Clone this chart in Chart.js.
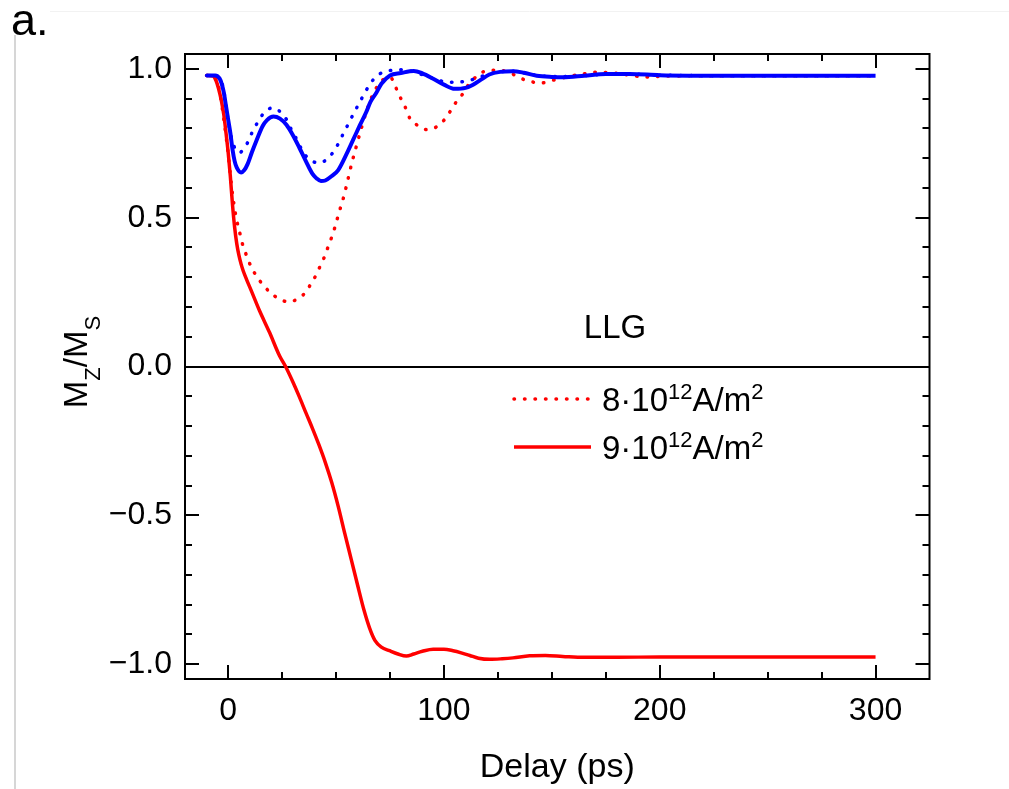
<!DOCTYPE html>
<html><head><meta charset="utf-8">
<script src="https://cdn.jsdelivr.net/npm/chart.js@4.4.1/dist/chart.umd.min.js"></script>
<style>html,body{margin:0;padding:0;background:#fff;}canvas{display:block;}</style>
</head><body>
<canvas id="c" width="1009" height="789"></canvas>
<script>
const FONT = '"Liberation Sans", Arial, Helvetica, sans-serif';

// ---- axis ticks ----
const xTicks = [0, 100, 200, 300];
const yTicks = [-1.0, -0.5, 0.0, 0.5, 1.0];
const yTickLabels = ['\u22121.0', '\u22120.5', '0.0', '0.5', '1.0'];

// ---- blue dotted ----
const blueDotX = [-10, -6, -4, -3, -2, -1, 0, 1, 2, 3.5, 5.2, 7, 9, 11, 13, 16, 18, 20.7, 23, 25, 27, 29, 32, 34.6, 37, 39.5, 42.3, 45, 47, 50, 53.2, 57.8, 61.7, 66.3, 70.2, 74.8, 80.2, 86, 91, 95, 100, 104.2, 109.6, 115, 120, 126, 132, 137, 143, 150, 160, 175, 186, 200, 230, 300];
const blueDotY = [0.978, 0.978, 0.968, 0.955, 0.925, 0.875, 0.825, 0.785, 0.755, 0.728, 0.718, 0.73, 0.752, 0.785, 0.812, 0.847, 0.862, 0.869, 0.862, 0.85, 0.83, 0.80, 0.76, 0.722, 0.70, 0.688, 0.684, 0.692, 0.705, 0.735, 0.78, 0.845, 0.898, 0.955, 0.983, 0.994, 0.997, 0.99, 0.978, 0.968, 0.957, 0.955, 0.958, 0.968, 0.981, 0.99, 0.992, 0.987, 0.978, 0.974, 0.975, 0.982, 0.983, 0.979, 0.977, 0.977];

// ---- blue solid ----
const blueSolX = [-10, -6, -4, -3, -2, -1, 0, 1, 2, 3, 4, 6, 7.5, 9, 11, 13, 16, 18, 21, 24, 27, 30, 33, 36, 39, 41, 43, 45, 48, 51, 55, 58, 61, 64, 66, 68.6, 71, 75, 80, 86, 90, 95, 100, 105, 110, 113.5, 117, 121, 126, 132, 137, 143, 150, 155, 165, 175, 186, 200, 230, 300];
const blueSolY = [0.978, 0.978, 0.968, 0.95, 0.92, 0.875, 0.83, 0.785, 0.73, 0.69, 0.668, 0.652, 0.66, 0.68, 0.72, 0.757, 0.808, 0.828, 0.84, 0.833, 0.812, 0.777, 0.735, 0.69, 0.648, 0.632, 0.623, 0.625, 0.64, 0.66, 0.716, 0.763, 0.81, 0.855, 0.89, 0.919, 0.95, 0.978, 0.986, 0.993, 0.985, 0.967, 0.947, 0.933, 0.936, 0.947, 0.963, 0.981, 0.99, 0.992, 0.987, 0.977, 0.973, 0.972, 0.977, 0.983, 0.983, 0.979, 0.977, 0.977];

// ---- red dotted: 8·10^12 A/m^2 ----
const redDotX = [-10, -6, -5, -4, -3, -2, -1, 0, 1, 2, 3, 4, 5.2, 6.3, 7.9, 9.6, 11.7, 14.1, 16.4, 19.5, 23.3, 27.9, 32.6, 36.2, 38.2, 40.5, 42.3, 44.3, 46, 47.8, 49.3, 50.7, 51.9, 53.2, 54.4, 55.5, 57, 59.4, 61.7, 64, 66.5, 69, 71.5, 74, 75.5, 77.1, 79.5, 82.6, 84.1, 87.2, 91.8, 96.5, 100.3, 102.6, 105.4, 108.5, 110.7, 113.5, 116.6, 120.4, 125.8, 130.5, 135.1, 139.7, 145.2, 150.6, 158.3, 164.5, 170.7, 180, 187.7, 193.9, 200, 230, 300];
const redDotY = [0.978, 0.975, 0.955, 0.925, 0.88, 0.83, 0.775, 0.715, 0.645, 0.58, 0.53, 0.49, 0.455, 0.42, 0.385, 0.352, 0.321, 0.293, 0.273, 0.248, 0.229, 0.217, 0.229, 0.252, 0.276, 0.304, 0.332, 0.363, 0.396, 0.431, 0.464, 0.50, 0.53, 0.561, 0.595, 0.628, 0.675, 0.74, 0.80, 0.855, 0.905, 0.94, 0.962, 0.972, 0.97, 0.947, 0.908, 0.863, 0.835, 0.813, 0.796, 0.805, 0.83, 0.854, 0.886, 0.914, 0.94, 0.964, 0.983, 0.995, 0.995, 0.987, 0.970, 0.958, 0.953, 0.962, 0.975, 0.983, 0.989, 0.985, 0.977, 0.973, 0.975, 0.977, 0.977];

// ---- red solid: 9·10^12 A/m^2 ----
const redSolX = [-10, -7, -5.6, -4.5, -3.2, -2, -1, 0, 1, 2, 3, 4, 5, 6, 7, 8.5, 10.7, 14.5, 19.2, 23.8, 26.6, 30, 33, 36, 39, 42, 45, 48, 51, 54, 57, 60, 63, 65.5, 68, 71, 74.8, 78.7, 82.6, 86, 90, 95, 100, 104.2, 108, 112, 116, 121.2, 127, 132, 139.7, 147, 155, 165, 180, 200, 250, 300];
const redSolY = [0.978, 0.976, 0.96, 0.935, 0.895, 0.845, 0.785, 0.72, 0.64, 0.545, 0.468, 0.412, 0.373, 0.344, 0.321, 0.293, 0.255, 0.188, 0.114, 0.036, 0.0, -0.052, -0.102, -0.155, -0.207, -0.262, -0.322, -0.39, -0.47, -0.56, -0.647, -0.735, -0.82, -0.878, -0.92, -0.943, -0.955, -0.966, -0.973, -0.966, -0.957, -0.95, -0.95, -0.955, -0.962, -0.971, -0.98, -0.984, -0.982, -0.979, -0.972, -0.971, -0.974, -0.977, -0.977, -0.976, -0.976, -0.976];

// ---- texts ----
const legendParts = [
  ['8·10', '12', 'A/m', '2'],
  ['9·10', '12', 'A/m', '2']
];
const annotationText = 'LLG';
const panelLabel = 'a.';
const xTitle = 'Delay (ps)';

const pts = (xs, ys) => xs.map((x, i) => ({x, y: ys[i]}));

const framePlugin = {
  id: 'frame',
  beforeDatasetsDraw(chart) {
    const {ctx, chartArea: a, scales: {y}} = chart;
    const y0 = Math.round(y.getPixelForValue(0));
    ctx.save();
    ctx.strokeStyle = '#000'; ctx.lineWidth = 2;
    ctx.beginPath(); ctx.moveTo(a.left, y0); ctx.lineTo(a.right, y0); ctx.stroke();
    ctx.restore();
  },
  afterDatasetsDraw(chart) {
    const {ctx, chartArea: a, scales: {x, y}} = chart;
    ctx.save();
    ctx.strokeStyle = '#000'; ctx.lineWidth = 2;
    ctx.strokeRect(a.left, a.top, a.right - a.left, a.bottom - a.top);
    const MAJ = 14, MIN = 7;
    ctx.beginPath();
    for (let v = Math.ceil(x.min / 25) * 25; v <= x.max; v += 25) {
      const px = Math.round(x.getPixelForValue(v));
      if (px <= a.left + 1 || px >= a.right - 1) continue;
      const L = xTicks.includes(v) ? MAJ : MIN;
      ctx.moveTo(px, a.bottom); ctx.lineTo(px, a.bottom - L);
      ctx.moveTo(px, a.top); ctx.lineTo(px, a.top + L);
    }
    for (let k = -10; k <= 10; k++) {
      const v = k / 10;
      const py = Math.round(y.getPixelForValue(v));
      const L = (k % 5 === 0) ? MAJ : MIN;
      ctx.moveTo(a.left, py); ctx.lineTo(a.left + L, py);
      ctx.moveTo(a.right, py); ctx.lineTo(a.right - L, py);
    }
    ctx.stroke();
    ctx.restore();
  },
  afterDraw(chart) {
    const {ctx} = chart;
    ctx.save();
    // panel frame lines
    ctx.strokeStyle = '#d6d6d6'; ctx.lineWidth = 2;
    ctx.beginPath(); ctx.moveTo(15, 35); ctx.lineTo(15, 789); ctx.stroke();
    ctx.strokeStyle = '#f2f2f2'; ctx.lineWidth = 1;
    ctx.beginPath(); ctx.moveTo(50, 11.5); ctx.lineTo(1009, 11.5); ctx.stroke();
    // panel label
    ctx.fillStyle = '#000';
    ctx.textBaseline = 'alphabetic'; ctx.textAlign = 'left';
    ctx.font = '45px ' + FONT;
    ctx.fillText(panelLabel, 11, 35);
    // annotation
    ctx.font = '33px ' + FONT;
    ctx.textAlign = 'center';
    ctx.fillText(annotationText, 615, 338);
    // y title with subscripts
    ctx.textAlign = 'left';
    const big = '33px ' + FONT, small = '22px ' + FONT;
    const parts = [['M', big, 0], ['Z', small, 13], ['/M', big, 0], ['S', small, 13]];
    let tot = 0;
    parts.forEach(p => { ctx.font = p[1]; tot += ctx.measureText(p[0]).width; });
    ctx.translate(87, 362); ctx.rotate(-Math.PI / 2);
    let cx = -tot / 2;
    parts.forEach(p => { ctx.font = p[1]; ctx.fillText(p[0], cx, p[2]); cx += ctx.measureText(p[0]).width; });
    ctx.setTransform(1, 0, 0, 1, 0, 0);
    // legend for the red series
    const legendSets = [chart.data.datasets[2], chart.data.datasets[3]];
    const rows = [399, 447];
    legendSets.forEach((ds, i) => {
      const yy = rows[i];
      ctx.save();
      ctx.strokeStyle = ds.borderColor; ctx.lineWidth = ds.borderWidth;
      ctx.lineCap = ds.borderCapStyle || 'butt';
      ctx.setLineDash(ds.borderDash || []);
      ctx.beginPath(); ctx.moveTo(514, yy); ctx.lineTo(591, yy); ctx.stroke();
      ctx.restore();
      let tx = 602;
      const base = yy + 12;
      legendParts[i].forEach((t, j) => {
        const sup = j % 2 === 1;
        ctx.font = (sup ? '22px ' : '33px ') + FONT;
        ctx.fillText(t, tx, sup ? base - 12 : base);
        tx += ctx.measureText(t).width;
      });
    });
    ctx.restore();
  }
};

new Chart(document.getElementById('c'), {
  type: 'line',
  data: {
    datasets: [
      { label: 'blue dotted', data: pts(blueDotX, blueDotY), borderColor: '#0000ff', borderWidth: 3.5, borderDash: [0.5, 10], borderCapStyle: 'round', order: 0 },
      { label: 'blue solid', data: pts(blueSolX, blueSolY), borderColor: '#0000ff', borderWidth: 4, order: 1 },
      { label: '8·10¹²A/m²', data: pts(redDotX, redDotY), borderColor: '#ff0000', borderWidth: 3.5, borderDash: [0.5, 10], borderCapStyle: 'round', order: 2 },
      { label: '9·10¹²A/m²', data: pts(redSolX, redSolY), borderColor: '#ff0000', borderWidth: 3.5, order: 3 }
    ]
  },
  options: {
    responsive: false,
    animation: false,
    devicePixelRatio: 1,
    elements: { point: { radius: 0 }, line: { cubicInterpolationMode: 'monotone', fill: false } },
    layout: { padding: { left: 0, top: 54, right: 79.5, bottom: 0 } },
    plugins: { legend: { display: false }, tooltip: { enabled: false } },
    scales: {
      x: {
        type: 'linear', min: -20, max: 325,
        afterBuildTicks: s => { s.ticks = xTicks.map(v => ({value: v})); },
        afterFit: s => { s.height = 110; },
        grid: { display: false, drawTicks: false },
        border: { display: false },
        ticks: { color: '#000', font: { family: FONT, size: 32 }, padding: 13, maxRotation: 0, callback: v => String(v) },
        title: { display: true, text: xTitle, color: '#000', font: { family: FONT, size: 34 }, padding: { top: 0, bottom: 1 } }
      },
      y: {
        type: 'linear', min: -1.05, max: 1.05,
        afterBuildTicks: s => { s.ticks = yTicks.map(v => ({value: v})); },
        afterFit: s => { s.width = 185; },
        grid: { display: false, drawTicks: false },
        border: { display: false },
        ticks: { color: '#000', font: { family: FONT, size: 32 }, padding: 13,
          callback: v => { const i = yTicks.findIndex(t => Math.abs(t - v) < 1e-9); return i >= 0 ? yTickLabels[i] : ''; } }
      }
    }
  },
  plugins: [framePlugin]
});
</script>
</body></html>
